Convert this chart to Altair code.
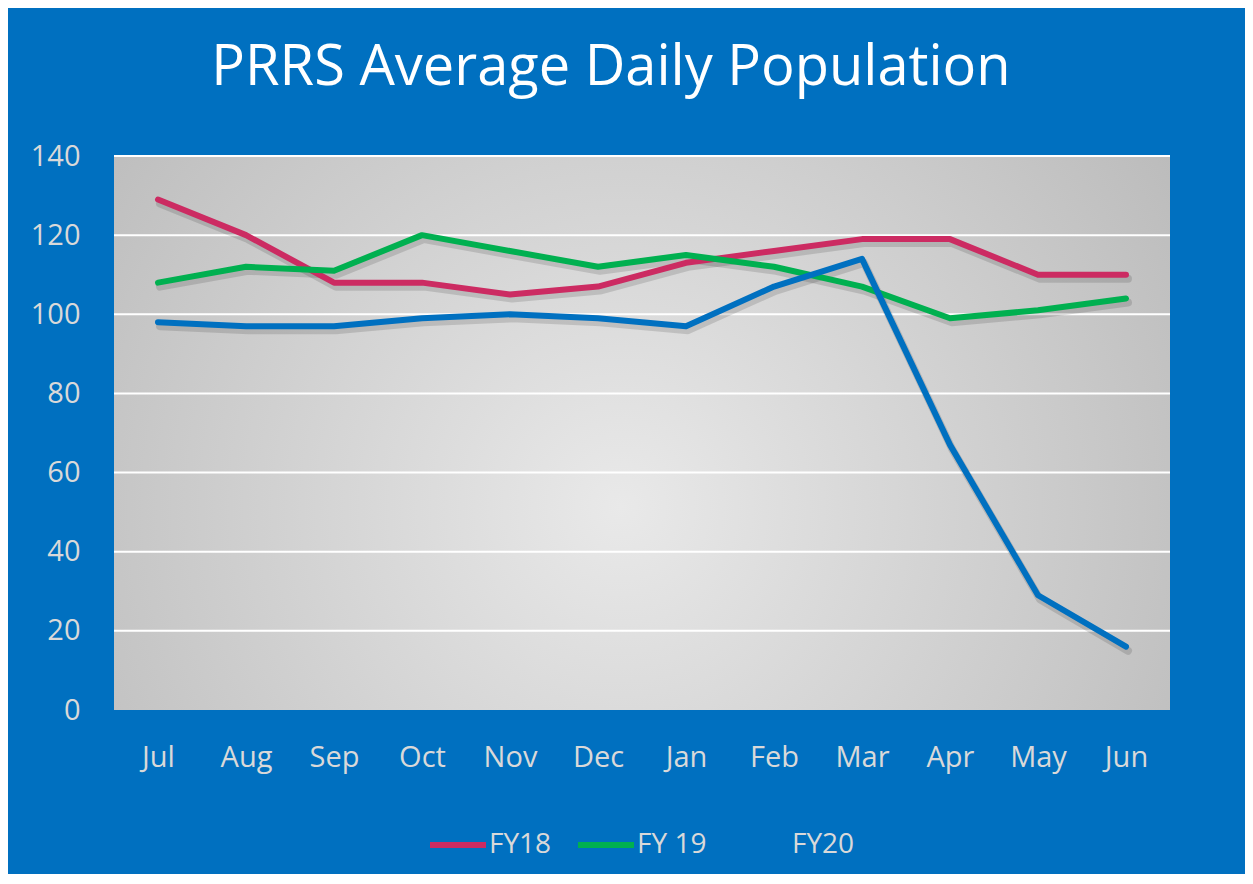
import altair as alt
import pandas as pd

months = ["Jul", "Aug", "Sep", "Oct", "Nov", "Dec", "Jan", "Feb", "Mar", "Apr", "May", "Jun"]
fy18 = [129, 120, 108, 108, 105, 107, 113, 116, 119, 119, 110, 110]
fy19 = [108, 112, 111, 120, 116, 112, 115, 112, 107, 99, 101, 104]
fy20 = [98, 97, 97, 99, 100, 99, 97, 107, 114, 67, 29, 16]
series_names = ["FY18", "FY 19", "FY20"]
series_colors = ["#CC2B62", "#00B050", "#0070C0"]
y_ticks = [0, 20, 40, 60, 80, 100, 120, 140]

rows = []
for name, vals in zip(series_names, [fy18, fy19, fy20]):
    for m, v in zip(months, vals):
        rows.append({"Month": m, "Series": name, "Value": v})
df = pd.DataFrame(rows)
grid_df = pd.DataFrame({"Value": y_ticks[1:]})

FONT = "Open Sans"
LABEL_COLOR = "#D9D9D9"
BG = "#0070C0"

x_enc = alt.X(
    "Month:N", sort=months, title=None,
    axis=alt.Axis(labelAngle=0, labelFontSize=29, labelColor=LABEL_COLOR, labelFont=FONT,
                  labelPadding=33, ticks=False, tickSize=0, domain=False, grid=False),
)
y_scale = alt.Scale(domain=[0, 140], nice=False)
y_enc = alt.Y(
    "Value:Q", title=None, scale=y_scale,
    axis=alt.Axis(values=y_ticks, labelFontSize=29, labelColor=LABEL_COLOR, labelFont=FONT,
                  labelPadding=34, ticks=False, tickSize=0, domain=False, grid=False),
)

plot_bg = alt.Chart(pd.DataFrame({"k": [0]})).mark_rect(
    fill=alt.RadialGradient(
        gradient="radial", x1=0.48, y1=0.57, r1=0, x2=0.48, y2=0.57, r2=0.78,
        stops=[alt.GradientStop(offset=0, color="#E9E9E9"),
               alt.GradientStop(offset=1, color="#B0B0B0")],
    ),
).encode(x=alt.value(0), x2=alt.value("width"), y=alt.value(0), y2=alt.value("height"))

grid = alt.Chart(grid_df).mark_rule(color="#FFFFFF", strokeWidth=2).encode(y=y_enc)

shadow = alt.Chart(df).mark_line(
    color="#000000", opacity=0.13, strokeWidth=8, xOffset=2, yOffset=4,
    strokeCap="round", strokeJoin="round",
).encode(x=x_enc, y=y_enc, detail="Series:N")

lines = alt.Chart(df).mark_line(
    strokeWidth=6, strokeCap="round", strokeJoin="round",
).encode(
    x=x_enc, y=y_enc,
    color=alt.Color(
        "Series:N",
        scale=alt.Scale(domain=series_names, range=series_colors),
        sort=series_names,
        legend=alt.Legend(
            title=None, orient="none", direction="horizontal",
            legendX=313, legendY=658,
            symbolType="stroke", symbolSize=3136, symbolStrokeWidth=6,
            labelFontSize=28, labelColor=LABEL_COLOR, labelFont=FONT,
            labelOffset=0, columnPadding=14,
        ),
    ),
)

chart = alt.layer(plot_bg, grid, shadow, lines).properties(
    width=1056, height=554,
    autosize=alt.AutoSizeParams(type="none"),
    padding={"left": 106, "top": 148, "right": 75, "bottom": 164},
    background=BG,
    title=alt.TitleParams(
        "PRRS Average Daily Population",
        fontSize=56, color="#FFFFFF", font=FONT, fontWeight="normal",
        anchor="middle", baseline="alphabetic", offset=1.5, dx=-31,
    ),
).configure_view(stroke=None)

chart.save("out.html", embed_options={"renderer": "svg", "actions": False})
